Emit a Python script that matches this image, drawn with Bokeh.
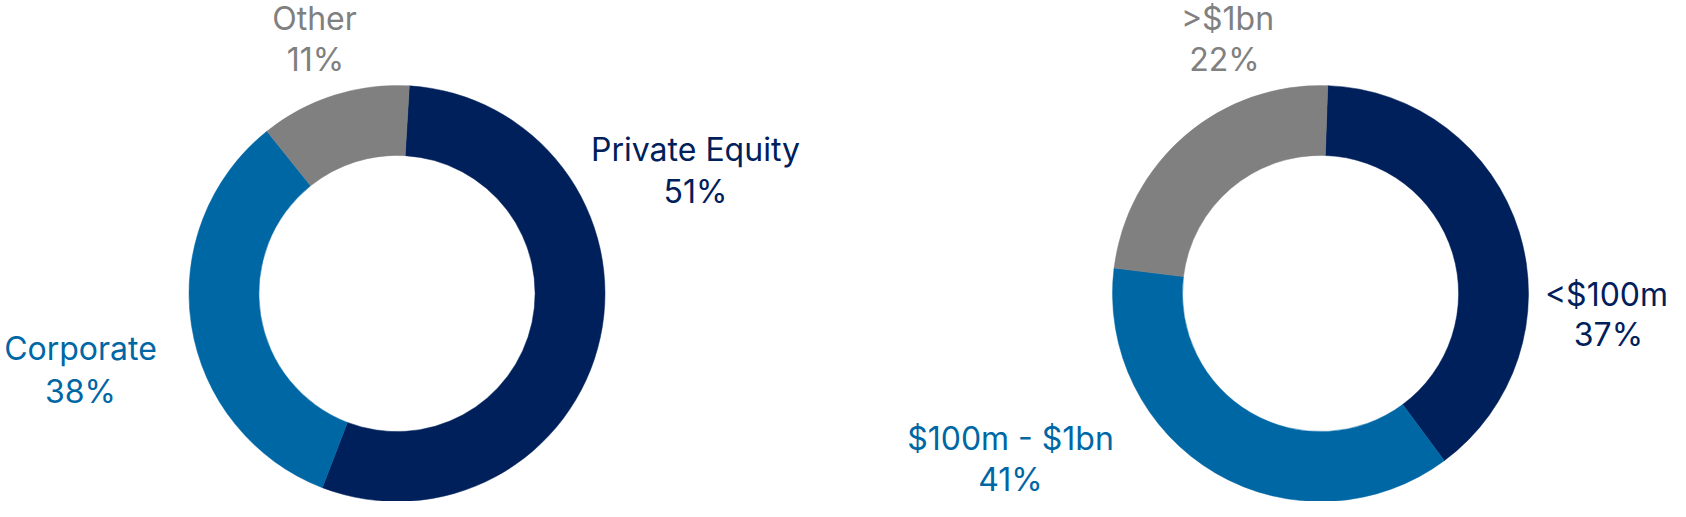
import math
from bokeh.plotting import figure
from bokeh.models import Range1d, ColumnDataSource
from bokeh.core.properties import value
from bokeh.embed import file_html
from bokeh.resources import INLINE

# ---------------- data ----------------
deal_type_names = ["Private Equity", "Corporate", "Other"]
deal_type_shares = [54.9, 33.4, 11.7]          # shares as drawn in the ring
deal_type_labels = ["51%", "38%", "11%"]

deal_size_names = ["<$100m", "$100m - $1bn", ">$1bn"]
deal_size_shares = [39.3, 37.1, 23.6]          # shares as drawn in the ring
deal_size_labels = ["37%", "41%", "22%"]

slice_colors = ["#00205B", "#0067A5", "#808080"]

# ---------------- layout (reference pixel space) ----------------
W, H = 1670, 501

def ry(y):
    # convert reference screen y (down) to data y (up)
    return H - y

donuts = [
    dict(cx=396.5, cy=293, start_deg=3.4, names=deal_type_names, shares=deal_type_shares,
         labels=deal_type_labels,
         name_pos=[(695, 158), (80, 357), (314, 27)],
         pct_pos=[(695, 200), (80, 400), (315, 68)]),
    dict(cx=1320, cy=293, start_deg=2.0, names=deal_size_names, shares=deal_size_shares,
         labels=deal_size_labels,
         name_pos=[(1606, 303), (1010, 447), (1227, 27)],
         pct_pos=[(1608, 343), (1010, 488), (1224, 68)]),
]
R_OUT, R_IN = 208, 138.1          # screen pixels
FONT = value("Inter")
FONT_SIZE = "32px"
TEXT_DY = -9

p = figure(width=W, height=H, output_backend="svg", toolbar_location=None,
           x_range=Range1d(0, W),
           y_range=Range1d(0, H),
           x_axis_location=None, y_axis_location=None, min_border=0)
p.grid.visible = False
p.outline_line_color = None
p.background_fill_color = "white"
p.border_fill_color = "white"

for d in donuts:
    total = sum(d["shares"])
    starts, ends = [], []
    cum = 0.0
    off = math.radians(d["start_deg"])
    for s in d["shares"]:
        a0 = math.pi / 2 - off - 2 * math.pi * cum / total
        cum += s
        a1 = math.pi / 2 - off - 2 * math.pi * cum / total
        starts.append(a0)
        ends.append(a1)
    src = ColumnDataSource(dict(x=[d["cx"]] * 3, y=[ry(d["cy"])] * 3,
                                start=starts, end=ends, color=slice_colors))
    p.annular_wedge(x="x", y="y", inner_radius=R_IN, outer_radius=R_OUT,
                    inner_radius_units="screen", outer_radius_units="screen",
                    start_angle="start", end_angle="end", direction="clock",
                    fill_color="color", line_color="color", line_width=0.5, source=src)

    tsrc = ColumnDataSource(dict(
        x=[q[0] for q in d["name_pos"]], y=[ry(q[1]) for q in d["name_pos"]],
        t=d["names"], c=slice_colors))
    p.text(x="x", y="y", text="t", text_color="c", text_font=FONT,
           text_font_size=FONT_SIZE, text_align="center", text_baseline="alphabetic",
           y_offset=TEXT_DY, source=tsrc)
    psrc = ColumnDataSource(dict(
        x=[q[0] for q in d["pct_pos"]], y=[ry(q[1]) for q in d["pct_pos"]],
        t=d["labels"], c=slice_colors))
    p.text(x="x", y="y", text="t", text_color="c", text_font=FONT,
           text_font_size=FONT_SIZE, text_align="center", text_baseline="alphabetic",
           y_offset=TEXT_DY, source=psrc)

open("out.html", "w").write(file_html(p, INLINE))
